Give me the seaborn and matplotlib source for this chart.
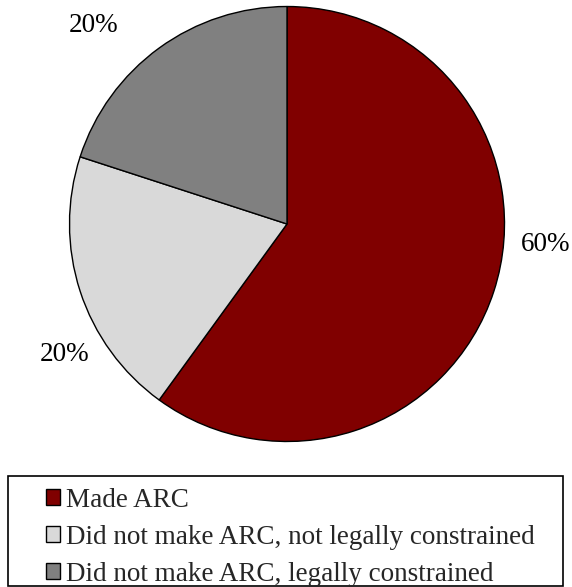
import matplotlib
matplotlib.use("Agg")
import matplotlib.pyplot as plt
import seaborn as sns
from matplotlib.patches import Rectangle

# Chart data
categories = ["Made ARC",
              "Did not make ARC, not legally constrained",
              "Did not make ARC, legally constrained"]
shares = [60, 20, 20]
colors = ["#800000", "#d9d9d9", "#808080"]

# label spots (in pie radius units), as placed in the original
label_spots = [(1.19, -0.092), (-1.023, -0.598), (-0.89, 0.915)]

sns.set_theme(style="white")
plt.rcParams['font.family'] = ['Liberation Serif', 'DejaVu Serif']

fig = plt.figure(figsize=(5.72, 5.87), dpi=100)
ax = fig.add_axes([0.1215, 0.2479, 0.7605, 0.741])

wedges, _ = ax.pie(shares, colors=colors, startangle=90, counterclock=False,
                   radius=1, wedgeprops=dict(edgecolor='black', linewidth=1))
ax.set_xlim(-1, 1)
ax.set_ylim(-1, 1)
ax.set_aspect('auto')
ax.axis('off')

for val, (lx, ly) in zip(shares, label_spots):
    ax.text(lx, ly, f"{val}%", ha='center', va='center', fontsize=19.5,
            color='black', clip_on=False)

# legend without frame, box drawn separately
fig.legend(wedges, categories, loc='upper left',
           bbox_to_anchor=(32 / 572, 1 - 474 / 587), frameon=False,
           fontsize=19.5, borderpad=0, handlelength=0.53, handleheight=0.53,
           handletextpad=0.22, labelspacing=0.45)
fig.patches.append(Rectangle((8 / 572, 1 - 586 / 587), 555 / 572, 110 / 587,
                             transform=fig.transFigure, fill=False,
                             edgecolor='black', linewidth=1.2))

plt.savefig("out.png", dpi=100)
